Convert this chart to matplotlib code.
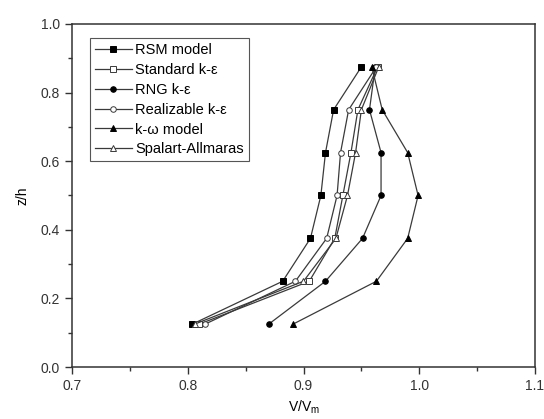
import numpy as np
import matplotlib
matplotlib.use('Agg')
import matplotlib.pyplot as plt
from matplotlib.ticker import MultipleLocator

# z/h levels
zh = [0.125, 0.25, 0.375, 0.5, 0.625, 0.75, 0.875]

# V/Vm for each model
rsm = [0.804, 0.882, 0.906, 0.915, 0.919, 0.926, 0.950]
standard = [0.810, 0.905, 0.927, 0.934, 0.941, 0.947, 0.964]
rng = [0.870, 0.919, 0.951, 0.967, 0.967, 0.957, 0.962]
realizable = [0.815, 0.893, 0.920, 0.929, 0.932, 0.939, 0.963]
komega = [0.891, 0.963, 0.990, 0.999, 0.990, 0.968, 0.959]
spalart = [0.806, 0.900, 0.928, 0.938, 0.945, 0.950, 0.965]

plt.rcParams['font.family'] = ['Liberation Sans', 'DejaVu Sans']
plt.rcParams['font.size'] = 9

fig = plt.figure(figsize=(5.44, 4.19), dpi=100)
ax = fig.add_axes([72 / 544, 52 / 419, 463 / 544, 343 / 419])

lc = '#3a3a3a'
kw = dict(color=lc, linewidth=0.9, markersize=4, markeredgewidth=0.7)
ax.plot(rsm, zh, marker='s', mfc='black', mec='black', label='RSM model', **kw)
ax.plot(standard, zh, marker='s', mfc='white', mec=lc, label='Standard k-ε', **kw)
ax.plot(rng, zh, marker='o', mfc='black', mec='black', label='RNG k-ε', **kw)
ax.plot(realizable, zh, marker='o', mfc='white', mec=lc, label='Realizable k-ε', **kw)
ax.plot(komega, zh, marker='^', mfc='black', mec='black', label='k-ω model', **kw)
ax.plot(spalart, zh, marker='^', mfc='white', mec=lc, label='Spalart-Allmaras', **kw)

ax.set_xlim(0.7, 1.1)
ax.set_ylim(0.0, 1.0)
ax.xaxis.set_major_locator(MultipleLocator(0.1))
ax.xaxis.set_minor_locator(MultipleLocator(0.05))
ax.yaxis.set_major_locator(MultipleLocator(0.2))
ax.yaxis.set_minor_locator(MultipleLocator(0.1))
ax.xaxis.set_major_formatter(plt.FormatStrFormatter('%.1f'))
ax.yaxis.set_major_formatter(plt.FormatStrFormatter('%.1f'))
ax.tick_params(which='major', direction='out', length=5, width=1, labelsize=10, colors='#333333')
ax.tick_params(which='minor', direction='out', length=3, width=1, colors='#333333')
for s in ax.spines.values():
    s.set_linewidth(1.1)
    s.set_color('#333333')

ax.set_xlabel('V/V$_\\mathregular{m}$', fontsize=10, labelpad=4)
ax.set_ylabel('z/h', fontsize=10, labelpad=8)

leg = ax.legend(loc='upper left', bbox_to_anchor=(0.039, 0.959), borderaxespad=0,
                fancybox=False, edgecolor='#555555', framealpha=1,
                handlelength=2.5, handletextpad=0.25, labelspacing=0.4,
                borderpad=0.35, fontsize=10.5)
leg.get_frame().set_linewidth(0.8)

fig.savefig('out.png', dpi=100)
